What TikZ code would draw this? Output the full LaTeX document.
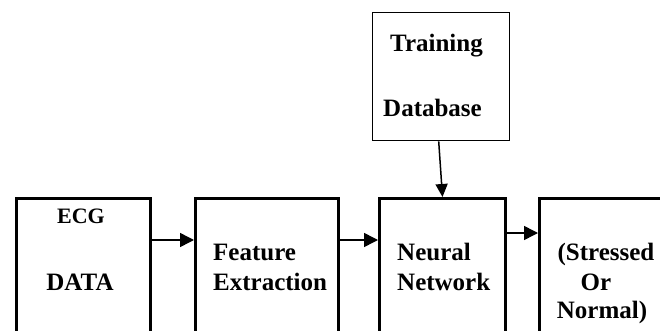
\documentclass[tikz,border=0pt]{standalone}
\usepackage{fontspec}
\setmainfont{Liberation Serif}
\usetikzlibrary{arrows.meta}
\begin{document}
\begin{tikzpicture}[x=1pt,y=-1pt,
  blockbox/.style={draw,line width=3pt,anchor=north west,inner sep=0pt},
  trainbox/.style={draw,line width=1.4pt,anchor=north west,inner sep=0pt},
  lbl/.style={font=\fontsize{25}{28}\selectfont\bfseries,inner sep=0pt},
  slbl/.style={font=\fontsize{22}{24}\selectfont\bfseries,inner sep=0pt},
  flow/.style={line width=1.5pt,-{Triangle[length=14pt,width=14pt]}}]
\useasboundingbox (0,0) rectangle (660,331);
\clip (0,0) rectangle (660,331);
\node[blockbox,minimum width=134pt,minimum height=160pt] (ecg) at (15,197) {};
\node[blockbox,minimum width=143pt,minimum height=160pt] (feat) at (194,197) {};
\node[blockbox,minimum width=126pt,minimum height=160pt] (nn) at (378,197) {};
\node[blockbox,minimum width=150pt,minimum height=160pt] (out) at (538,197) {};
\node[trainbox,minimum width=137pt,minimum height=128pt] (train) at (372,12) {};
% labels
\node[slbl,anchor=base] (t1) at (81,223) {ECG};
\node[lbl,anchor=base] (t2) at (80,290) {DATA};
\node[lbl,anchor=base west] (t3) at (213,260) {Feature};
\node[lbl,anchor=base west] (t4) at (213,290) {Extraction};
\node[lbl,anchor=base west] (t5) at (397,260) {Neural};
\node[lbl,anchor=base west] (t6) at (397,290) {Network};
\node[lbl,anchor=base] (t7) at (606,260) {(Stressed};
\node[lbl,anchor=base] (t8) at (596,290) {Or};
\node[lbl,anchor=base] (t9) at (602,318) {Normal)};
\node[lbl,anchor=base west] (t10) at (390,52) {Training};
\node[lbl,anchor=base west] (t11) at (383,117) {Database};
% connectors
\draw[flow] ([yshift=-43pt]ecg.north east) -- ([yshift=-43pt]feat.north west);
\draw[flow] ([yshift=-43pt]feat.north east) -- ([yshift=-43pt]nn.north west);
\draw[flow] ([yshift=-36pt]nn.north east) -- ([yshift=-36pt]out.north west);
\draw[flow,-{Triangle[length=13pt,width=12pt]}] ([xshift=-2.5pt]train.south) -- (nn.north);
\end{tikzpicture}
\end{document}
